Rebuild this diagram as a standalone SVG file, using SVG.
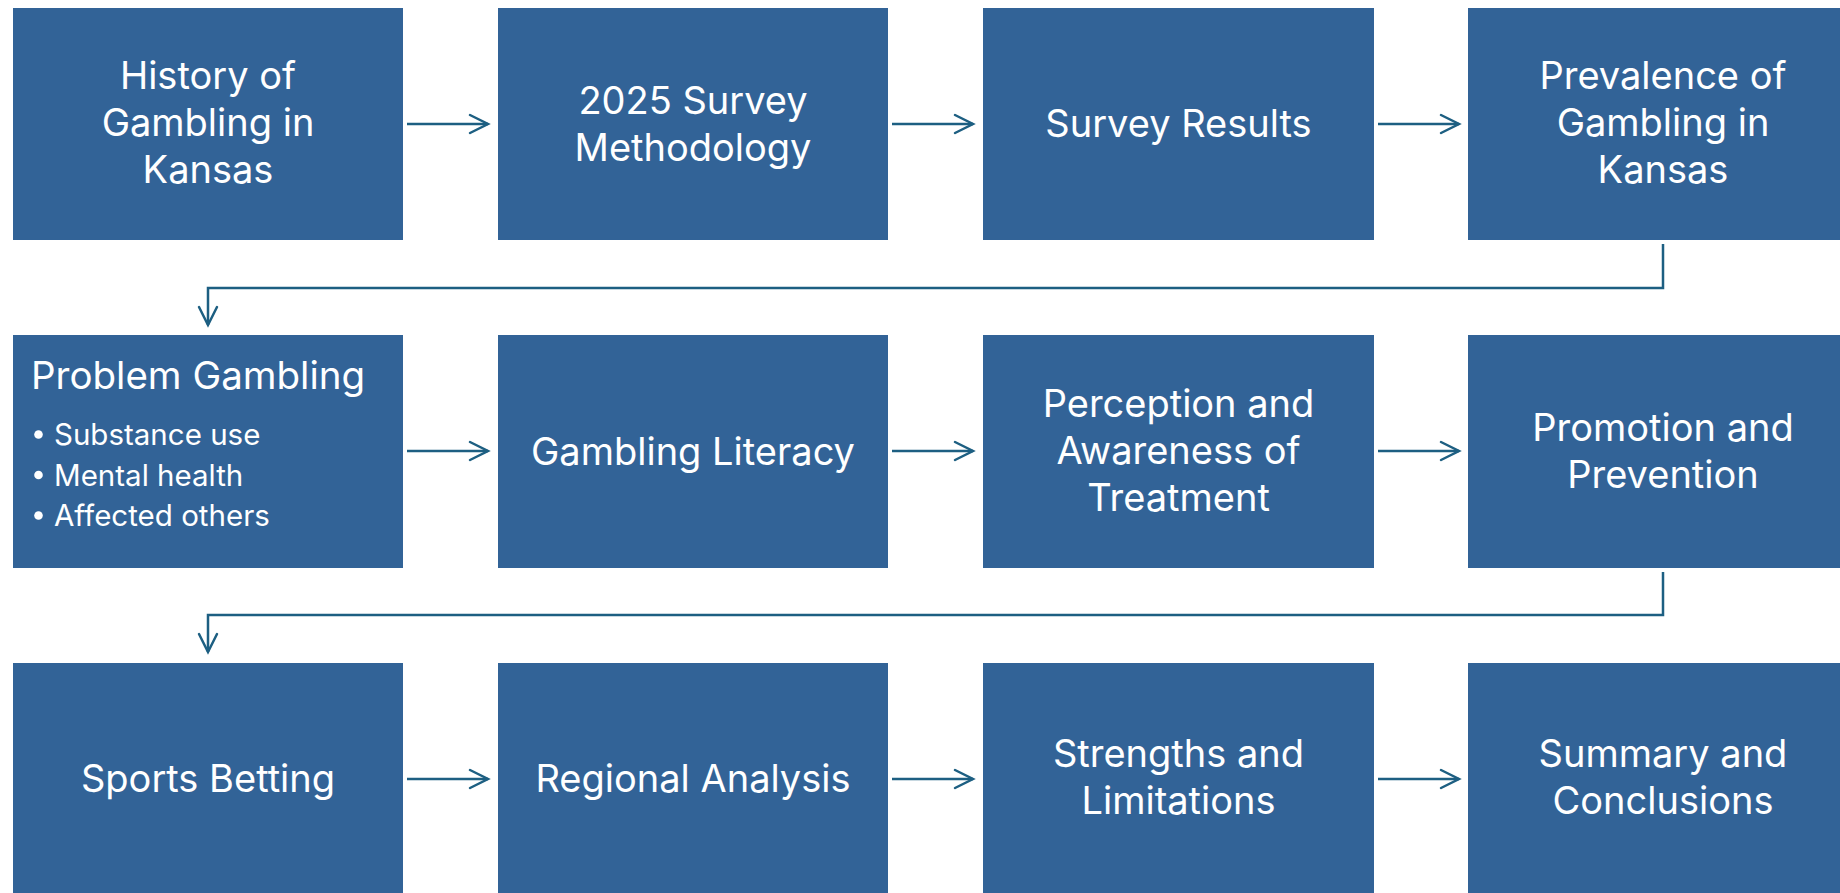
<svg xmlns="http://www.w3.org/2000/svg" width="1840" height="893" viewBox="0 0 1840 893">
<style>
.box{fill:#326397;}
.t{font-family:Inter,"Open Sans","Liberation Sans",sans-serif;font-size:38px;fill:#ffffff;text-anchor:middle;}
.tl{font-family:Inter,"Open Sans","Liberation Sans",sans-serif;font-size:38.5px;fill:#ffffff;}
.b{font-family:Inter,"Open Sans","Liberation Sans",sans-serif;font-size:29.5px;fill:#ffffff;}
.c{fill:none;stroke:#1d5f82;stroke-width:2.5;}
.h{fill:none;stroke:#1d5f82;stroke-width:2.5;stroke-linecap:round;stroke-linejoin:miter;}
</style>
<rect width="1840" height="893" fill="#ffffff"/>
<g id="n1"><rect class="box" x="13" y="8" width="390" height="232"/><text class="t" x="208" y="89">History of</text><text class="t" x="208" y="136">Gambling in</text><text class="t" x="208" y="183">Kansas</text></g>
<g id="n2"><rect class="box" x="498" y="8" width="390" height="232"/><text class="t" x="693" y="114">2025 Survey</text><text class="t" x="693" y="161">Methodology</text></g>
<g id="n3"><rect class="box" x="983" y="8" width="391" height="232"/><text class="t" x="1178.5" y="137">Survey Results</text></g>
<g id="n4"><rect class="box" x="1468" y="8" width="390" height="232"/><text class="t" x="1663" y="89">Prevalence of</text><text class="t" x="1663" y="136">Gambling in</text><text class="t" x="1663" y="183">Kansas</text></g>
<g id="n5"><rect class="box" x="13" y="335" width="390" height="233"/><text class="tl" x="31" y="389">Problem Gambling</text>
<circle cx="38.5" cy="434.5" r="4.3" fill="#ffffff"/><text class="b" x="54" y="445">Substance use</text>
<circle cx="38.5" cy="475" r="4.3" fill="#ffffff"/><text class="b" x="54" y="486">Mental health</text>
<circle cx="38.5" cy="515.5" r="4.3" fill="#ffffff"/><text class="b" x="54" y="526">Affected others</text></g>
<g id="n6"><rect class="box" x="498" y="335" width="390" height="233"/><text class="t" x="693" y="465">Gambling Literacy</text></g>
<g id="n7"><rect class="box" x="983" y="335" width="391" height="233"/><text class="t" x="1178.5" y="417">Perception and</text><text class="t" x="1178.5" y="464">Awareness of</text><text class="t" x="1178.5" y="511">Treatment</text></g>
<g id="n8"><rect class="box" x="1468" y="335" width="390" height="233"/><text class="t" x="1663" y="441">Promotion and</text><text class="t" x="1663" y="488">Prevention</text></g>
<g id="n9"><rect class="box" x="13" y="663" width="390" height="240"/><text class="t" x="208" y="792">Sports Betting</text></g>
<g id="n10"><rect class="box" x="498" y="663" width="390" height="240"/><text class="t" x="693" y="792">Regional Analysis</text></g>
<g id="n11"><rect class="box" x="983" y="663" width="391" height="240"/><text class="t" x="1178.5" y="767">Strengths and</text><text class="t" x="1178.5" y="814">Limitations</text></g>
<g id="n12"><rect class="box" x="1468" y="663" width="390" height="240"/><text class="t" x="1663" y="767">Summary and</text><text class="t" x="1663" y="814">Conclusions</text></g>
<g id="connectors">
<path class="c" d="M407 124H488"/><path class="h" d="M470 115L488 124L470 133"/>
<path class="c" d="M892 124H973"/><path class="h" d="M955 115L973 124L955 133"/>
<path class="c" d="M1378 124H1459"/><path class="h" d="M1441 115L1459 124L1441 133"/>
<path class="c" d="M1663 244V288H208V325"/><path class="h" d="M199 307L208 325L217 307"/>
<path class="c" d="M407 451H488"/><path class="h" d="M470 442L488 451L470 460"/>
<path class="c" d="M892 451H973"/><path class="h" d="M955 442L973 451L955 460"/>
<path class="c" d="M1378 451H1459"/><path class="h" d="M1441 442L1459 451L1441 460"/>
<path class="c" d="M1663 572V615H208V652"/><path class="h" d="M199 634L208 652L217 634"/>
<path class="c" d="M407 779H488"/><path class="h" d="M470 770L488 779L470 788"/>
<path class="c" d="M892 779H973"/><path class="h" d="M955 770L973 779L955 788"/>
<path class="c" d="M1378 779H1459"/><path class="h" d="M1441 770L1459 779L1441 788"/>
</g>
</svg>
